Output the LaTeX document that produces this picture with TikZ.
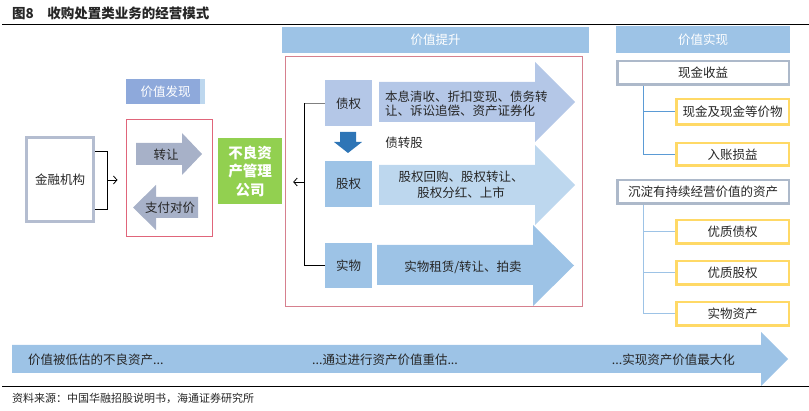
\documentclass[tikz,border=0pt]{standalone}
\usepackage{fontspec}
\setmainfont{Noto Sans CJK SC}
\usetikzlibrary{positioning,calc,arrows.meta}
\definecolor{hdrblue}{HTML}{9DC3E6}
\definecolor{fxblue}{HTML}{8EA9DB}
\definecolor{stripblue}{HTML}{BDD7EE}
\definecolor{lavblue}{HTML}{B4C7E7}
\definecolor{paleblue}{HTML}{BDD7EE}
\definecolor{deepblue}{HTML}{2E75B6}
\definecolor{lineblue}{HTML}{5B9BD5}
\definecolor{greyarrow}{HTML}{A7B1C8}
\definecolor{jrborder}{HTML}{B4BDD0}
\definecolor{cashborder}{HTML}{ADB9CA}
\definecolor{goldline}{HTML}{FFD966}
\definecolor{agreen}{HTML}{92D050}
\definecolor{redline}{HTML}{E0657A}
\definecolor{pinkline}{HTML}{D6808E}
\tikzset{
  txt/.style={inner sep=0pt, text=black!85, font=\fontsize{12.5}{14}\selectfont},
  box/.style={txt, align=center},
  header/.style={box, fill=hdrblue, text=white},
  greybox/.style={box, draw=cashborder, line width=2.5pt, fill=white},
  goldbox/.style={box, draw=goldline, line width=2.5pt, fill=white},
  kindbox/.style={box, minimum width=47, minimum height=46},
  openarrow/.style={-{Straight Barb[length=3.5pt,width=8pt]}, line width=0.8pt},
}
\begin{document}
\begin{tikzpicture}[x=1pt,y=-1pt]
\useasboundingbox (0,0) rectangle (809,411);
% title and rules
\node[txt, anchor=west, font=\fontsize{13.5}{15}\bfseries] (title) at (12,13)
  {图8\hspace{1em}收购处置类业务的经营模式};
\draw[line width=1pt] (2,25) -- (809,25);
\draw[line width=1pt] (2,387) -- (809,387);
\node[txt, anchor=west, font=\fontsize{11}{12}\selectfont] (source) at (12,398)
  {资料来源：中国华融招股说明书，海通证券研究所};

% value discovery
\node[header, fill=fxblue, minimum width=79, minimum height=25] (fxhdr) at (165.5,91.5) {价值发现};
\fill[stripblue] (fxhdr.north east) rectangle ([xshift=-5pt]fxhdr.south east);
\node[box, draw=jrborder, line width=3pt, minimum width=67, minimum height=84] (jrjg) at (60,179.5) {金融机构};
\node[draw=redline, line width=1pt, minimum width=86, minimum height=117] (fxframe) at (169,178.5) {};
\fill[greyarrow] (136,143) -- (182,143) -- (182,133) -- (202,154) -- (182,175) -- (182,165) -- (136,165) -- cycle;
\node[txt] (zr) at (166,155) {转让};
\fill[greyarrow] (198,197) -- (156,197) -- (156,185) -- (133,207.5) -- (156,230) -- (156,218) -- (198,218) -- cycle;
\node[txt] (zfdj) at (170,208) {支付对价};
\node[box, fill=agreen, text=white, minimum width=64, minimum height=66,
  font=\fontsize{14.5}{18.5}\bfseries] (amc) at (250,171) {不良资\\产管理\\公司};
\draw[line width=1pt] ([yshift=27.5pt]jrjg.east) -- ++(12,0) |- ([yshift=-30.5pt]jrjg.east);
\coordinate (jrmid) at (107,180);
\draw[openarrow] (jrmid) -- ([xshift=-8pt]fxframe.west |- jrmid);

% value enhancement
\node[header, minimum width=307, minimum height=26] (tshdr) at (435.5,40) {价值提升};
\node[draw=pinkline, line width=1pt, minimum width=297, minimum height=250] (tsframe) at (433.5,182) {};
\node[kindbox, fill=lavblue] (zq) at (348.5,103.5) {债权};
\node[kindbox, fill=hdrblue] (gq) at (348.5,184) {股权};
\node[kindbox, fill=hdrblue, minimum height=45] (sw) at (348.5,265.5) {实物};
\fill[lavblue] (379,82) -- (535,82) -- (535,62) -- (575,102) -- (535,142) -- (535,122) -- (379,122) -- cycle;
\node[txt, anchor=west, align=left] (zqway) at (385,104)
  {本息清收、折扣变现、债务转\\让、诉讼追偿、资产证券化};
\fill[paleblue] (379,165) -- (535,165) -- (535,145) -- (575,185) -- (535,225) -- (535,205) -- (379,205) -- cycle;
\node[box, font=\fontsize{12.5}{16}\selectfont] (gqway) at (461,185)
  {股权回购、股权转让、\\股权分红、上市};
\fill[hdrblue] (377,245) -- (533,245) -- (533,225) -- (574,265.5) -- (533,306) -- (533,285) -- (377,285) -- cycle;
\node[txt] (swway) at (463,267) {实物租赁/转让、拍卖};
\fill[deepblue] (340,132) -- (356,132) -- (356,142) -- (362,142) -- (348,153) -- (334,142) -- (340,142) -- cycle;
\node[txt] (zzg) at (404,143) {债转股};
\draw[black!50, line width=1pt] (zq.west) -- ++(-20,0) coordinate (brtop);
\draw[line width=1pt] (brtop) |- (sw.west);
\coordinate (tsmid) at (305,182);
\draw[openarrow] (tsmid) -- ([xshift=11pt]amc.east |- tsmid);

% value realisation
\node[header, minimum width=174, minimum height=27] (sxhdr) at (703,39.5) {价值实现};
\node[greybox, minimum width=171.5, minimum height=23.5] (xjsy) at (703,73) {现金收益};
\node[goldbox, minimum width=112.5, minimum height=25.5] (xjdj) at (732.5,112) {现金及现金等价物};
\node[goldbox, minimum width=112.5, minimum height=22.5] (rzsy) at (732.5,154.5) {入账损益};
\node[greybox, minimum width=171.5, minimum height=23.5] (cdzc) at (703,192) {沉淀有持续经营价值的资产};
\node[goldbox, minimum width=112.5, minimum height=23.5] (yzzq) at (732.5,232) {优质债权};
\node[goldbox, minimum width=112.5, minimum height=23.5] (yzgq) at (732.5,273) {优质股权};
\node[goldbox, minimum width=112.5, minimum height=23.5] (swzc) at (732.5,314) {实物资产};
\draw[lineblue, line width=1pt] ([xshift=-60pt]xjsy.south) |- (xjdj.west);
\draw[lineblue, line width=1pt] ([xshift=-60pt]xjsy.south) |- (rzsy.west);
\draw[hdrblue, line width=1pt] ([xshift=-60pt]cdzc.south) |- (yzzq.west);
\draw[hdrblue, line width=1pt] ([xshift=-60pt]cdzc.south) |- (yzgq.west);
\draw[hdrblue, line width=1pt] ([xshift=-60pt]cdzc.south) |- (swzc.west);

% bottom process arrow
\fill[hdrblue] (12,345) -- (761,345) -- (761,332) -- (788,359) -- (761,386) -- (761,373) -- (12,373) -- cycle;
\node[txt, anchor=west] (stage1) at (28,360) {价值被低估的不良资产...};
\node[txt] (stage2) at (385,360) {...通过进行资产价值重估...};
\node[txt, anchor=east] (stage3) at (735,360) {...实现资产价值最大化};
\end{tikzpicture}
\end{document}
